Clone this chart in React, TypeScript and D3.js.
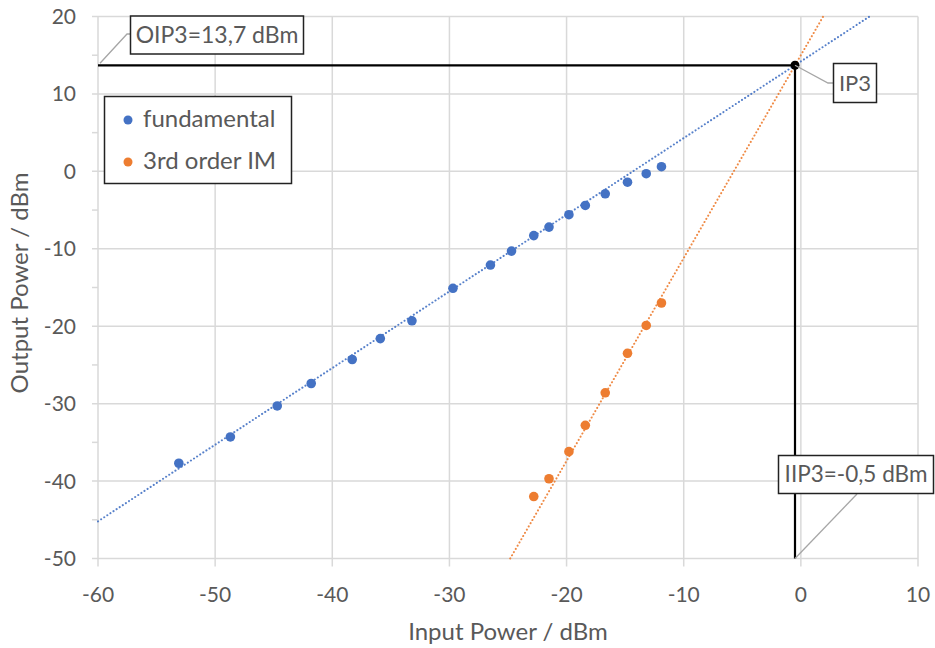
import React from "react";
import * as d3 from "d3";

const fundIn = [-53.1, -48.7, -44.7, -41.8, -38.3, -35.9, -33.2, -29.7, -26.5, -24.7, -22.8, -21.5, -19.8, -18.4, -16.7, -14.8, -13.2, -11.9];
const fundOut = [-37.7, -34.3, -30.3, -27.4, -24.3, -21.6, -19.3, -15.1, -12.1, -10.3, -8.3, -7.2, -5.6, -4.4, -2.9, -1.4, -0.3, 0.6];
const imIn = [-22.8, -21.5, -19.8, -18.4, -16.7, -14.8, -13.2, -11.9];
const imOut = [-42.0, -39.7, -36.2, -32.8, -28.6, -23.5, -19.9, -17.0];
const trendSlope = [0.99, 2.62];
const trendIntercept = [14.2, 15.01];
const ip3In = -0.5;
const ip3Out = 13.7;
const xTicks = [-60, -50, -40, -30, -20, -10, 0, 10];
const yTicks = [20, 10, 0, -10, -20, -30, -40, -50];
const yMinor = [15, 5, -5, -15, -25, -35, -45];
const seriesNames = ["fundamental", "3rd order IM"];
const colors = ["#4472C4", "#ED7D31"];

const FONT = "Lato, 'Open Sans', sans-serif";
const TXT = "#595959";

export default function App() {
  const x = d3.scaleLinear().domain([-60, 10]).range([98, 918]);
  const y = d3.scaleLinear().domain([-50, 20]).range([558.5, 16.5]);
  const [x0, x1] = x.domain();
  const [y0, y1] = y.domain();

  const trend = (i: number) => {
    const m = trendSlope[i], b = trendIntercept[i];
    let xa = x0, xb = x1;
    const xAtY0 = (y0 - b) / m, xAtY1 = (y1 - b) / m;
    xa = Math.max(xa, Math.min(xAtY0, xAtY1));
    xb = Math.min(xb, Math.max(xAtY0, xAtY1));
    const line = d3.line<number>().x((v) => x(v)).y((v) => y(m * v + b));
    return line([xa, xb]) || "";
  };

  const fund = fundIn.map((v, i) => [v, fundOut[i]]);
  const im = imIn.map((v, i) => [v, imOut[i]]);

  return (
    <svg width={935} height={648} style={{ position: "absolute", left: 0, top: 0, background: "#fff" }} fontFamily={FONT}>
      <rect width={935} height={648} fill="#fff" />
      {xTicks.map((t) => (
        <line key={"gx" + t} x1={x(t)} x2={x(t)} y1={y(y1)} y2={y(y0) + 8} stroke="#d9d9d9" strokeWidth={1.5} />
      ))}
      {yTicks.map((t) => (
        <line key={"gy" + t} x1={x(x0) - 6} x2={x(x1)} y1={y(t)} y2={y(t)} stroke="#d9d9d9" strokeWidth={1.5} />
      ))}
      {yMinor.map((t) => (
        <line key={"my" + t} x1={x(x0) - 6} x2={x(x0)} y1={y(t)} y2={y(t)} stroke="#d9d9d9" strokeWidth={1.5} />
      ))}
      {xTicks.map((t) => (
        <text key={"tx" + t} x={x(t)} y={y(y0) + 43} textAnchor="middle" fontSize={21} fill={TXT}>{t}</text>
      ))}
      {yTicks.map((t) => (
        <text key={"ty" + t} x={x(x0) - 22} y={y(t) + 7.5} textAnchor="end" fontSize={21} fill={TXT}>{t}</text>
      ))}
      <text x={508} y={640} textAnchor="middle" fontSize={24} fill={TXT}>Input Power / dBm</text>
      <text transform={`translate(28,283) rotate(-90)`} textAnchor="middle" fontSize={24} fill={TXT}>Output Power / dBm</text>

      <line x1={x(x0)} x2={x(ip3In)} y1={y(ip3Out)} y2={y(ip3Out)} stroke="#000" strokeWidth={2.2} />
      <line x1={x(ip3In)} x2={x(ip3In)} y1={y(ip3Out)} y2={y(y0)} stroke="#000" strokeWidth={2.2} />

      {[0, 1].map((i) => (
        <path key={"tr" + i} d={trend(i)} fill="none" stroke={colors[i]} strokeWidth={2} strokeDasharray="0.1 3.6" strokeLinecap="round" opacity={0.9} />
      ))}
      {fund.map((p, i) => (
        <circle key={"f" + i} cx={x(p[0])} cy={y(p[1])} r={4.8} fill={colors[0]} />
      ))}
      {im.map((p, i) => (
        <circle key={"m" + i} cx={x(p[0])} cy={y(p[1])} r={4.8} fill={colors[1]} />
      ))}
      <circle cx={x(ip3In)} cy={y(ip3Out)} r={4.5} fill="#000" />

      <polyline points={`${x(x0) + 2},${y(ip3Out) - 2} 127,34 131,34`} fill="none" stroke="#a6a6a6" strokeWidth={1.3} />
      <rect x={130.5} y={16} width={173} height={38} fill="#fff" stroke="#222" strokeWidth={1.5} />
      <text x={217} y={43} textAnchor="middle" fontSize={23} fill={TXT}>OIP3=13,7 dBm</text>

      <polyline points={`${x(ip3In)},${y(ip3Out)} 828,83 833,83`} fill="none" stroke="#a6a6a6" strokeWidth={1.3} />
      <rect x={833.5} y={63.5} width={43} height={39} fill="#fff" stroke="#222" strokeWidth={1.5} />
      <text x={855} y={91} textAnchor="middle" fontSize={22} fill={TXT}>IP3</text>

      <line x1={x(ip3In)} y1={y(y0)} x2={857} y2={494} stroke="#a6a6a6" strokeWidth={1.3} />
      <rect x={778.5} y={455.5} width={155} height={38} fill="#fff" stroke="#222" strokeWidth={1.5} />
      <text x={856} y={482} textAnchor="middle" fontSize={22.5} fill={TXT}>IIP3=-0,5 dBm</text>

      <rect x={104.5} y={96.5} width={187} height={87} fill="#fff" stroke="#222" strokeWidth={1.5} />
      {seriesNames.map((n, i) => (
        <g key={n}>
          <circle cx={128} cy={120 + i * 42} r={4.5} fill={colors[i]} />
          <text x={143} y={127 + i * 42} fontSize={24} fill={TXT}>{n}</text>
        </g>
      ))}
    </svg>
  );
}
